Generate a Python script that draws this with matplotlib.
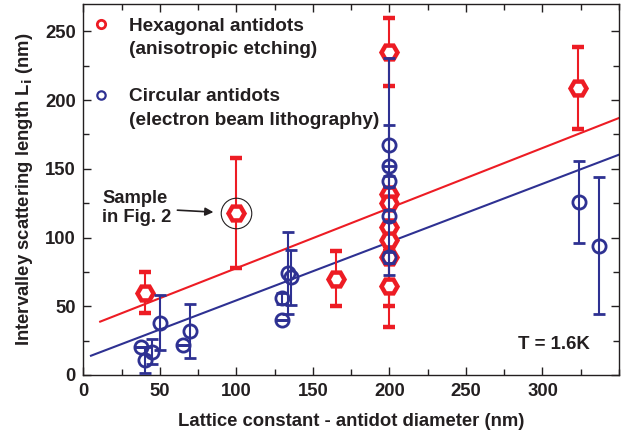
import matplotlib
matplotlib.use("Agg")
import matplotlib.pyplot as plt
from matplotlib.lines import Line2D
from matplotlib.ticker import MultipleLocator

plt.rcParams['font.family'] = ['Liberation Sans', 'DejaVu Sans']
plt.rcParams['font.weight'] = 'bold'

RED = '#ED1C24'
BLUE = '#2E3192'
INK = '#231F20'

# Hexagonal antidots (anisotropic etching)
hex_x = [40, 100, 165, 200, 200, 200, 200, 200, 200, 200, 323]
hex_y = [60, 118, 70, 235, 132, 125, 108, 98, 86, 65, 209]
hex_err_lo = [15, 40, 20, 25, 4, 4, 4, 4, 36, 30, 30]
hex_err_hi = [15, 40, 20, 25, 4, 4, 4, 4, 4, 30, 30]

# Circular antidots (electron beam lithography)
circ_x = [37.6, 40, 45, 50, 65, 70, 130, 130, 134, 136, 200, 200, 200, 200, 200, 324, 337]
circ_y = [20.5, 11, 17, 38, 22, 32, 40, 56, 74, 71, 167, 152, 141, 116, 85.5, 126, 94]
circ_err = [0, 9.5, 9, 20, 0, 20, 0, 4, 30, 20, 15, 79, 4, 4, 4, 30, 50]

# Linear fits (end points)
fit_hex_x = [11, 350]
fit_hex_y = [38.8, 187]
fit_circ_x = [5, 350]
fit_circ_y = [14, 160.3]

fig = plt.figure(figsize=(6.41, 4.36), dpi=100)
ax = fig.add_axes([0.130, 0.140, 0.8357, 0.851])

ax.plot(fit_hex_x, fit_hex_y, color=RED, lw=1.5, zorder=2)
ax.plot(fit_circ_x, fit_circ_y, color=BLUE, lw=1.5, zorder=2)

ax.errorbar(hex_x, hex_y, yerr=[hex_err_lo, hex_err_hi], fmt='H', ms=11.5,
            mfc='white', mec=RED, mew=3.2, color=RED, ecolor=RED,
            elinewidth=1.5, capsize=4, capthick=1.5, zorder=3)
ax.errorbar(circ_x, circ_y, yerr=circ_err, fmt='o', ms=9.5,
            mfc='none', mec=BLUE, mew=2, color=BLUE, ecolor=BLUE,
            elinewidth=1.5, capsize=4, capthick=1.5, zorder=4)

# Highlight circle around sample of Fig. 2
ax.plot([hex_x[1]], [hex_y[1]], 'o', ms=22, mfc='none', mec=INK, mew=0.8, zorder=5)
ax.annotate('Sample\nin Fig. 2', xy=(85, 118.5), xytext=(12.5, 121.5),
            fontsize=13.2, fontweight='bold', color=INK, ha='left', va='center',
            linespacing=1.15,
            arrowprops=dict(arrowstyle='-|>', color=INK, lw=1.2,
                            mutation_scale=12, shrinkA=2, shrinkB=0))

ax.text(331, 22, 'T = 1.6K', fontsize=13.4, fontweight='bold', color=INK,
        ha='right', va='center')

blank = Line2D([], [], ls='none', marker=None)
handles = [Line2D([], [], ls='none', marker='o', ms=6, mfc='white', mec=RED, mew=2),
           blank, blank,
           Line2D([], [], ls='none', marker='o', ms=6, mfc='white', mec=BLUE, mew=1.6),
           blank]
labels = ['Hexagonal antidots', '(anisotropic etching)', ' ',
          'Circular antidots', '(electron beam lithography)']
leg = ax.legend(handles, labels, loc='upper left', frameon=False, fontsize=13.7,
                handlelength=0.95, handletextpad=0.95, labelspacing=0.33,
                borderaxespad=0.3, bbox_to_anchor=(-0.008, 1.0))
for t in leg.get_texts():
    t.set_color(INK)
    t.set_fontweight('bold')

ax.set_xlim(0, 350)
ax.set_ylim(0, 270)
ax.xaxis.set_major_locator(MultipleLocator(50))
ax.xaxis.set_minor_locator(MultipleLocator(25))
ax.yaxis.set_major_locator(MultipleLocator(50))
ax.yaxis.set_minor_locator(MultipleLocator(25))
ax.set_xticks([0, 50, 100, 150, 200, 250, 300])
ax.tick_params(which='both', direction='in', top=True, right=True, colors=INK,
               labelsize=13.3, width=1)
ax.tick_params(which='major', length=6, pad=5.5)
ax.tick_params(which='minor', length=4)
for lab in ax.get_xticklabels() + ax.get_yticklabels():
    lab.set_fontweight('bold')
for s in ax.spines.values():
    s.set_color(INK)
    s.set_linewidth(1)

ax.set_xlabel('Lattice constant - antidot diameter (nm)', fontsize=13.3,
              fontweight='bold', color=INK, labelpad=10)
ax.set_ylabel('Intervalley scattering length L$_\\mathbf{i}$ (nm)', fontsize=13.3,
              fontweight='bold', color=INK, labelpad=7)

fig.savefig('out.png', dpi=100)
